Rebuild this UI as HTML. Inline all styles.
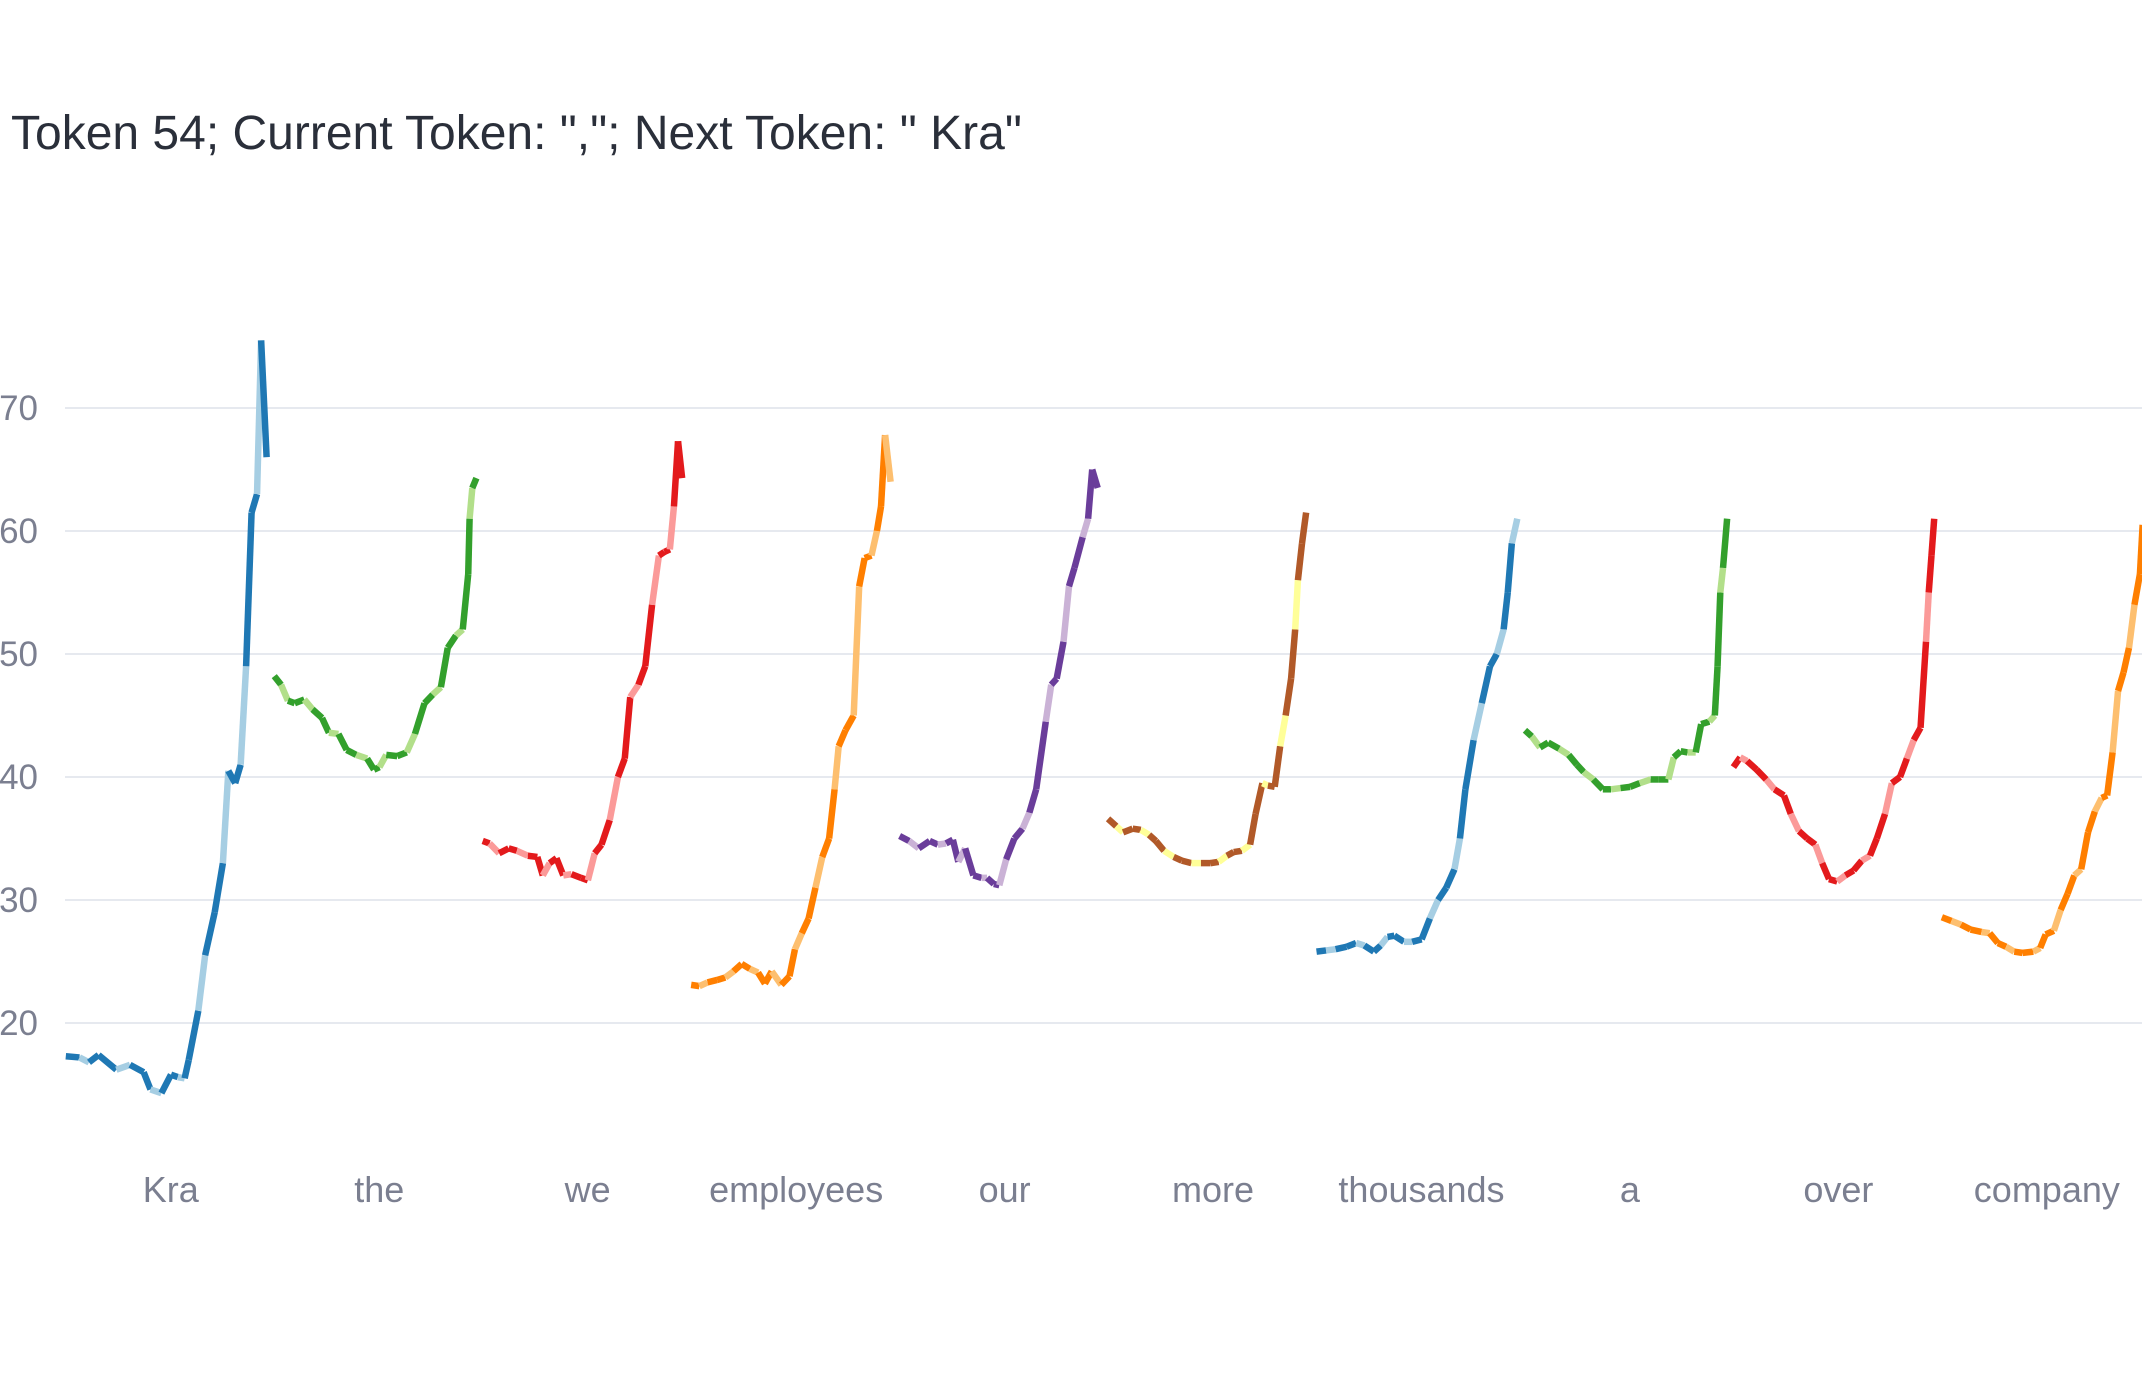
<!DOCTYPE html>
<html><head><meta charset="utf-8">
<style>
html,body{margin:0;padding:0;background:#fff;}
svg{display:block;font-family:"Liberation Sans",sans-serif;}
</style></head>
<body>
<svg id="chart" width="2142" height="1380" viewBox="0 0 2142 1380" xmlns="http://www.w3.org/2000/svg">
<rect width="2142" height="1380" fill="#fff"/>
<text x="11" y="149" font-size="48" fill="#2a2f3a">Token 54; Current Token: ","; Next Token: " Kra"</text>
<g id="grid"></g>
<g id="series"></g>
<g id="labels"></g>
</svg>
<script>
const categories = ["Kra","the","we","employees","our","more","thousands","a","over","company"];
const yTicks = [20,30,40,50,60,70];
// steps: position within each token window (0..147), values: y-values
const stepsKra = [0,10,17,24,37,47,57,62,70,77,82,87,90,97,102,109,115,119,124,128,132,136,140,143,147];
const valsKra  = [17.3,17.2,16.8,17.4,16.2,16.6,16.0,14.6,14.3,15.8,15.6,15.5,17.0,21,25.5,29,33,40.5,39.5,41,49,61.5,63,75.5,66];
const stepsThe = [0,5,10,15,22,28,35,40,47,53,60,68,73,77,82,90,97,103,110,116,122,127,133,138,142,143,145,148];
const valsThe  = [48.2,47.5,46.2,46.0,46.3,45.5,44.8,43.6,43.5,42.2,41.8,41.5,40.6,40.8,41.8,41.7,42,43.5,46,46.7,47.3,50.5,51.5,52,56.5,61,63.5,64.3];
const stepsWe = [0,5,12,19,25,33,40,44,49,54,59,65,72,77,82,87,93,99,104,108,114,119,124,129,133,137,140,143,146];
const valsWe  = [34.8,34.6,33.8,34.2,34,33.6,33.5,32,33,33.4,32,32.1,31.8,31.6,33.8,34.5,36.5,40,41.5,46.5,47.5,49,54,58,58.3,58.5,62,67.3,64.3];
const stepsEmp = [0,6,12,19,25,31,37,43,49,54,59,66,72,76,81,86,91,96,101,105,108,113,119,123,127,132,136,139,142,146];
const valsEmp  = [23.1,23,23.3,23.5,23.7,24.2,24.8,24.4,24.1,23.2,24.2,23.1,23.8,26,27.3,28.5,31,33.5,35,39,42.5,43.8,45,55.5,57.8,58,60,62,67.8,64];
const stepsOur = [0,7,14,22,28,34,39,43,48,54,60,64,69,73,78,84,90,95,100,107,111,115,120,124,128,134,138,141,145];
const valsOur  = [35.2,34.8,34.2,34.8,34.5,34.6,34.9,33.1,34.2,32,31.8,31.8,31.3,31.2,33.3,35,35.8,37.1,39,44.5,47.5,48,51,55.5,57,59.5,61,65,63.5];
const stepsMore = [0,6,11,18,24,30,35,41,48,54,61,68,75,81,87,92,98,104,108,113,117,122,126,130,134,137,139,142,145];
const valsMore  = [36.6,36,35.5,35.8,35.7,35.3,34.8,34,33.5,33.2,33,33,33,33.1,33.6,33.9,34,34.5,37,39.5,39.3,39.2,42.5,45,48,52,56,59,61.5];
const stepsTh = [0,7,14,22,29,35,42,47,52,57,64,70,77,83,89,95,101,105,109,115,121,127,132,137,140,143,147];
const valsTh  = [25.8,25.9,26,26.2,26.5,26.3,25.8,26.3,27,27.1,26.6,26.6,26.8,28.5,30,31,32.5,35,39,43,46,49,50,52,55,59,61];
const stepsA = [0,5,11,17,25,32,38,43,50,57,63,70,77,84,92,98,105,109,114,119,125,129,135,139,141,143,145,148];
const valsA  = [43.8,43.3,42.4,42.8,42.3,41.8,41,40.4,39.8,39,39,39.1,39.2,39.5,39.8,39.8,39.8,41.6,42.1,42,42,44.3,44.5,45,49,55,57,61];
const stepsOver = [0,5,10,17,24,30,37,42,48,54,60,65,70,76,82,88,94,100,105,111,116,122,127,132,137,141,143,145,147];
const valsOver  = [40.8,41.6,41.3,40.6,39.8,39,38.5,37,35.6,35,34.5,33,31.7,31.5,32,32.4,33.2,33.6,35,37,39.5,40,41.5,43,44,51,55,58,61];
const stepsCo = [0,7,14,21,29,35,41,47,53,59,67,72,76,82,87,92,97,102,107,112,117,121,125,129,133,137,141,145,147];
const valsCo  = [28.6,28.3,28,27.6,27.4,27.3,26.5,26.2,25.8,25.7,25.8,26.1,27.2,27.5,29.2,30.5,32,32.5,35.5,37.2,38.3,38.5,42,47,48.5,50.5,54,56.5,60.5];

const seriesSteps = [stepsKra,stepsThe,stepsWe,stepsEmp,stepsOur,stepsMore,stepsTh,stepsA,stepsOver,stepsCo];
const seriesVals = [valsKra,valsThe,valsWe,valsEmp,valsOur,valsMore,valsTh,valsA,valsOver,valsCo];
const palette = [["#a6cee3","#1f78b4"],["#b2df8a","#33a02c"],["#fb9a99","#e31a1c"],["#fdbf6f","#ff7f00"],["#cab2d6","#6a3d9a"],["#ffff99","#b15928"]];

const NS = "http://www.w3.org/2000/svg";
const plotL = 65, plotR = 2142;
function yScale(v){ return 1023 - (v - 20) * 12.3; }
function catCenter(i){ return 170.8 + i * 208.45; }
function xScale(i, step){ return catCenter(i) - 105 + step * 1.366; }

const grid = document.getElementById('grid');
yTicks.forEach(t => {
  const l = document.createElementNS(NS,'line');
  l.setAttribute('x1',plotL); l.setAttribute('x2',plotR);
  l.setAttribute('y1',yScale(t)); l.setAttribute('y2',yScale(t));
  l.setAttribute('stroke','#e6e9ef'); l.setAttribute('stroke-width','2');
  
  
  grid.appendChild(l);
  const tx = document.createElementNS(NS,'text');
  tx.setAttribute('x',38); tx.setAttribute('y',yScale(t)+12);
  tx.setAttribute('text-anchor','end'); tx.setAttribute('font-size','35');
  tx.setAttribute('fill','#7b7f90');
  tx.textContent = t;
  
  
  grid.appendChild(tx);
});

const labels = document.getElementById('labels');
categories.forEach((c,i) => {
  const tx = document.createElementNS(NS,'text');
  tx.setAttribute('x',catCenter(i)); tx.setAttribute('y',1202);
  tx.setAttribute('text-anchor','middle'); tx.setAttribute('font-size','36');
  tx.setAttribute('fill','#7b7f90');
  tx.textContent = c;
  
  
  labels.appendChild(tx);
});

const sg = document.getElementById('series');
seriesVals.forEach((vals,i) => {
  const steps = seriesSteps[i];
  const pair = palette[i % 6];
  const g = document.createElementNS(NS,'g');
  
  
  for (let k = 0; k < vals.length - 1; k++) {
    let x1 = xScale(i,steps[k]), x2 = xScale(i,steps[k+1]);
    if (x1 > plotR) continue;
    const l = document.createElementNS(NS,'line');
    l.setAttribute('x1',x1); l.setAttribute('y1',yScale(vals[k]));
    l.setAttribute('x2',Math.min(x2,plotR+4)); l.setAttribute('y2',yScale(vals[k+1]));
    l.setAttribute('stroke', pair[(k % 3 === 1) ? 0 : 1]);
    l.setAttribute('stroke-width','6.5');
    
    
    g.appendChild(l);
  }
  sg.appendChild(g);
});
</script>
</body></html>
